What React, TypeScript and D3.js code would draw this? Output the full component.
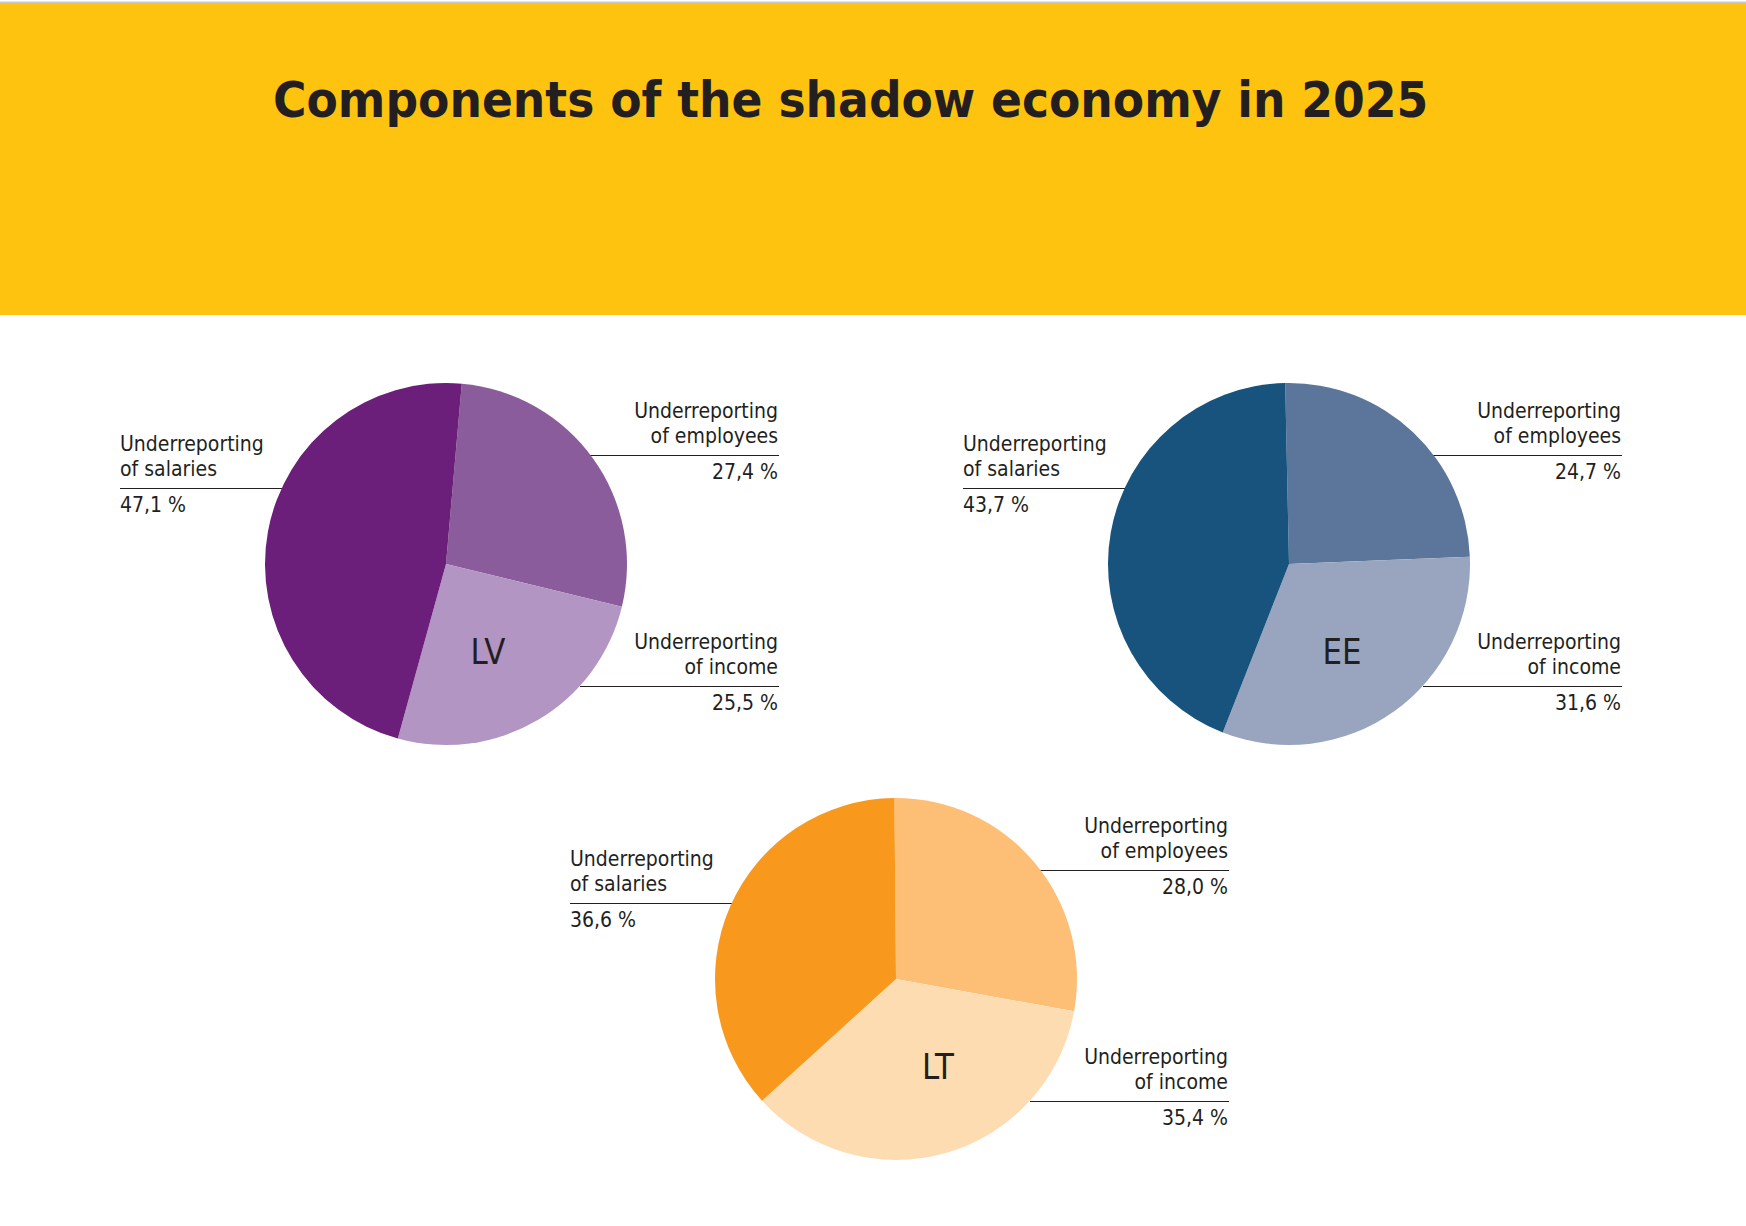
import React from 'react';
import * as d3 from 'd3';

const WIDTH = 1746;
const HEIGHT = 1226;

// shares per country, in the order employees, income, salaries (clockwise from the top)
const segmentLines = [
  ['Underreporting', 'of employees'],
  ['Underreporting', 'of income'],
  ['Underreporting', 'of salaries'],
];
const lvShares = [27.4, 25.5, 47.1];
const eeShares = [24.7, 31.6, 43.7];
const ltShares = [28.0, 35.4, 36.6];

const lvColors = ['#8a5c9b', '#b295c3', '#6c1f7a'];
const eeColors = ['#5c759a', '#99a5bf', '#17537d'];
const ltColors = ['#fdbf76', '#fedcb2', '#f8991e'];

const pies = [
  { code: 'LV', shares: lvShares, colors: lvColors, cx: 446, cy: 564, start: 5, tagDx: 42 },
  { code: 'EE', shares: eeShares, colors: eeColors, cx: 1289, cy: 564, start: -1.2, tagDx: 53 },
  { code: 'LT', shares: ltShares, colors: ltColors, cx: 896, cy: 979, start: -0.5, tagDx: 42 },
];

const RADIUS = 181;
const INK = '#231f20';
const FONT = '"DejaVu Sans", Verdana, sans-serif';

// where each segment's callout sits: side and the y of its rule, relative to the pie centre
const callouts = [
  { side: 1, ruleDy: -109 },
  { side: 1, ruleDy: 122 },
  { side: -1, ruleDy: -76 },
];

const locale = d3.formatLocale({ decimal: ',', thousands: ' ', grouping: [3], currency: ['', ''] });
const fmt = locale.format('.1f');

const Txt = ({ x, y, k = 0.86, anchor = 'start', size = 22, weight = 'normal', children }: any) => (
  <text
    transform={`translate(${x},${y}) scale(${k},1)`}
    textAnchor={anchor}
    fontSize={size}
    fontWeight={weight}
    fontFamily={FONT}
    fill={INK}
  >
    {children}
  </text>
);

const CountryPie = ({ cfg }: any) => {
  const start = (cfg.start * Math.PI) / 180;
  const arcs = d3
    .pie<number>()
    .sort(null)
    .value((d) => d)
    .startAngle(start)
    .endAngle(start + 2 * Math.PI)(cfg.shares);
  const arc = d3.arc<d3.PieArcDatum<number>>().innerRadius(0).outerRadius(RADIUS);

  return (
    <g transform={`translate(${cfg.cx},${cfg.cy})`}>
      {callouts.map((c, i) => {
        const edge = Math.sqrt(RADIUS * RADIUS - c.ruleDy * c.ruleDy);
        const outer = c.side > 0 ? 333 : -326;
        return (
          <line
            key={`r${i}`}
            x1={outer}
            x2={c.side * edge}
            y1={c.ruleDy + 0.5}
            y2={c.ruleDy + 0.5}
            stroke={INK}
            strokeWidth={1}
            shapeRendering="crispEdges"
          />
        );
      })}
      {arcs.map((a, i) => (
        <path key={i} d={arc(a) as string} fill={cfg.colors[i]} />
      ))}
      {callouts.map((c, i) => {
        const x = c.side > 0 ? 332 : -326;
        const anchor = c.side > 0 ? 'end' : 'start';
        return (
          <g key={`t${i}`}>
            <Txt x={x} y={c.ruleDy - 37} anchor={anchor}>{segmentLines[i][0]}</Txt>
            <Txt x={x} y={c.ruleDy - 12} anchor={anchor}>{segmentLines[i][1]}</Txt>
            <Txt x={x} y={c.ruleDy + 24} anchor={anchor}>{`${fmt(cfg.shares[i])} %`}</Txt>
          </g>
        );
      })}
      <Txt x={cfg.tagDx} y={100} anchor="middle" size={36} k={0.86}>{cfg.code}</Txt>
    </g>
  );
};

export default function App() {
  return (
    <svg
      width={WIDTH}
      height={HEIGHT}
      style={{ position: 'absolute', left: 0, top: 0, background: '#fff' }}
    >
      <rect x={0} y={0} width={WIDTH} height={HEIGHT} fill="#fff" />
      <rect x={0} y={1.5} width={WIDTH} height={1.5} fill="#c8c8c8" />
      <rect x={0} y={3} width={WIDTH} height={312} fill="#fec30e" />
      <Txt x={273} y={117} size={50} weight="bold" k={0.913}>
        Components of the shadow economy in 2025
      </Txt>
      {pies.map((p) => (
        <CountryPie key={p.code} cfg={p} />
      ))}
    </svg>
  );
}
